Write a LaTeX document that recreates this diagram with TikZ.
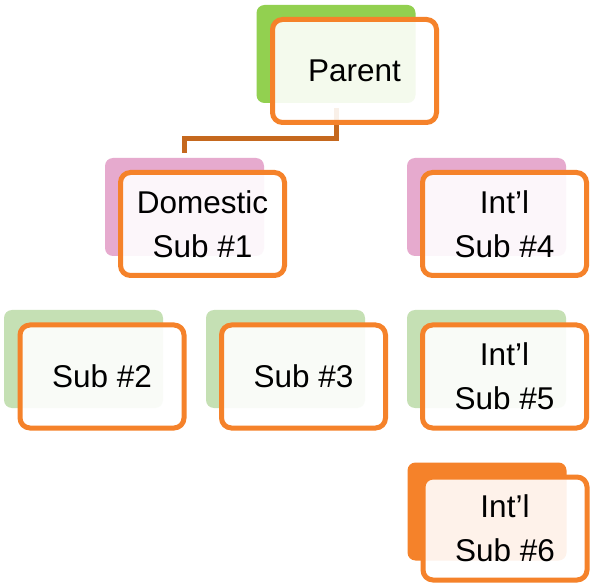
\documentclass[tikz,border=0pt]{standalone}
\usepackage{fontspec}
\setmainfont{Liberation Sans}
\usetikzlibrary{calc}
\definecolor{orng}{HTML}{F5822A}
\definecolor{grnD}{HTML}{92D050}
\definecolor{grnL}{HTML}{C5E0B4}
\definecolor{pnk}{HTML}{E6AACE}
\definecolor{conn}{HTML}{C5681E}
\tikzset{
  backbox/.style={rectangle, rounded corners=8pt, minimum width=159pt, minimum height=98pt, inner sep=0pt, draw=none},
  frontbox/.style={rectangle, rounded corners=10pt, draw=orng, line width=5pt, fill=white, fill opacity=0.9, text opacity=1, draw opacity=1, minimum width=164pt, minimum height=103pt, inner sep=0pt, align=center, font=\fontsize{31.5}{44}\selectfont},
  connline/.style={draw=conn, line width=5pt}
}
\begin{document}
\begin{tikzpicture}[x=1pt,y=-1pt]
\useasboundingbox[fill=white] (0,0) rectangle (590,583);
% back boxes
\node[backbox, fill=grnD] (pb) at (336,54) {};
\node[backbox, fill=pnk] (db) at (184.5,207) {};
\node[backbox, fill=pnk] (i4b) at (486.5,207) {};
\node[backbox, fill=grnL] (s2b) at (83.5,359) {};
\node[backbox, fill=grnL] (s3b) at (285.5,359) {};
\node[backbox, fill=grnL] (i5b) at (486.5,359) {};
\node[backbox, fill=orng] (i6b) at (487,511.5) {};
% connector
\coordinate (c1) at ($(pb.south)+(0,5)$);
\coordinate (c2) at ($(db.north)+(0,-5)$);
\coordinate (cm) at (0,139);
\draw[connline] (c1) -- (c1 |- cm) -| (c2);
% front boxes
\node[frontbox] (p) at (354.5,71) {Parent};
\node[frontbox] (d) at (202.5,224) {Domestic\\Sub \#1};
\node[frontbox] (i4) at (504.5,224) {Int’l\\Sub \#4};
\node[frontbox] (s2) at (102,376.5) {Sub \#2};
\node[frontbox] (s3) at (303.5,376.5) {Sub \#3};
\node[frontbox] (i5) at (504.5,376.5) {Int’l\\Sub \#5};
\node[frontbox] (i6) at (505,528.5) {Int’l\\Sub \#6};
\end{tikzpicture}
\end{document}
